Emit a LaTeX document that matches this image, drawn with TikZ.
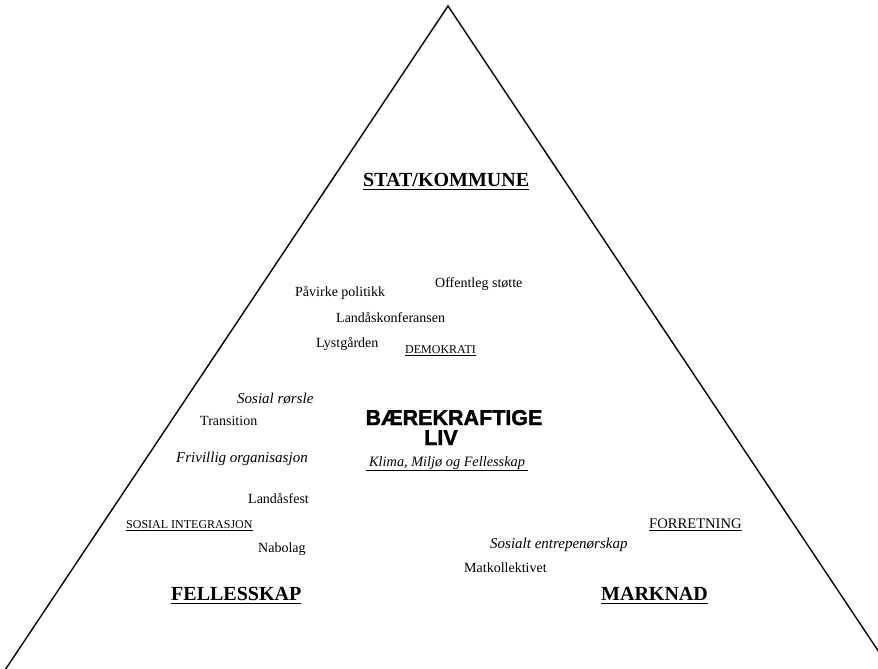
\documentclass[tikz,border=0pt]{standalone}
\usepackage{fontspec}
\setmainfont{Liberation Serif}
\newfontfamily\arialf{Liberation Sans}[BoldFeatures={FakeBold=1.6}]
\begin{document}
\begin{tikzpicture}[x=1pt,y=-1pt,
  txt/.style={anchor=base west,inner sep=0pt,font=\fontsize{14}{16}\selectfont},
  itx/.style={anchor=base west,inner sep=0pt,font=\fontsize{15}{17}\selectfont\itshape},
  caps/.style={anchor=base west,inner sep=0pt,font=\fontsize{12}{14}\selectfont},
  title/.style={anchor=base west,inner sep=0pt,font=\fontsize{20}{22}\selectfont\bfseries},
  centre/.style={anchor=base,inner sep=0pt,font=\fontsize{21.5}{24}\selectfont\arialf\bfseries},
  ul/.style={line width=0.9pt},
  edge/.style={line width=1.4pt}]
\useasboundingbox (0,0) rectangle (878,669);
\begin{scope}
\clip (0,0) rectangle (878,669);
\coordinate (apex) at (448,6);
\coordinate (bl) at (-5,685);
\coordinate (br) at (901,685);
\draw[edge,line join=miter] (bl) -- (apex) -- (br);
\end{scope}

\node[title] (stat) at (363,186) {STAT/KOMMUNE};
\draw[ul] ([yshift=-3pt]stat.base west) -- ([yshift=-3pt]stat.base east);

\node[txt] (pav) at (295,296) {Påvirke politikk};
\node[txt] (off) at (435,287) {Offentleg støtte};
\node[txt] (lkon) at (336,322) {Landåskonferansen};
\node[txt] (lyst) at (316,347) {Lystgården};
\node[caps] (demo) at (405,353) {DEMOKRATI};
\draw[ul] ([yshift=-2pt]demo.base west) -- ([yshift=-2pt]demo.base east);

\node[itx] (sos) at (237,403) {Sosial rørsle};
\node[txt] (trans) at (200,425) {Transition};
\node[itx] (friv) at (176,462) {Frivillig organisasjon};
\node[txt] (lfest) at (248,503) {Landåsfest};
\node[caps] (sint) at (126,528) {SOSIAL INTEGRASJON};
\draw[ul] ([yshift=-2pt]sint.base west) -- ([yshift=-2pt]sint.base east);
\node[txt] (nab) at (258,552) {Nabolag};

\node[centre] (baer) at (454,425) {BÆREKRAFTIGE};
\node[centre] (liv) at (441,445) {LIV};
\node[itx,font=\fontsize{14.3}{16}\selectfont\itshape] (klima) at (369,466) {Klima, Miljø og Fellesskap};
\draw[ul] ([xshift=-3pt,yshift=-4pt]klima.base west) -- ([xshift=3pt,yshift=-4pt]klima.base east);

\node[txt,font=\fontsize{14.6}{16}\selectfont] (forr) at (649,528) {FORRETNING};
\draw[ul] ([yshift=-2.5pt]forr.base west) -- ([yshift=-2.5pt]forr.base east);
\node[itx] (sent) at (490,548) {Sosialt entrepenørskap};
\node[txt] (mat) at (464,572) {Matkollektivet};

\node[title] (fell) at (171,600) {FELLESSKAP};
\draw[ul] ([yshift=-3pt]fell.base west) -- ([yshift=-3pt]fell.base east);
\node[title] (mark) at (601,600) {MARKNAD};
\draw[ul] ([yshift=-3pt]mark.base west) -- ([yshift=-3pt]mark.base east);
\end{tikzpicture}
\end{document}
